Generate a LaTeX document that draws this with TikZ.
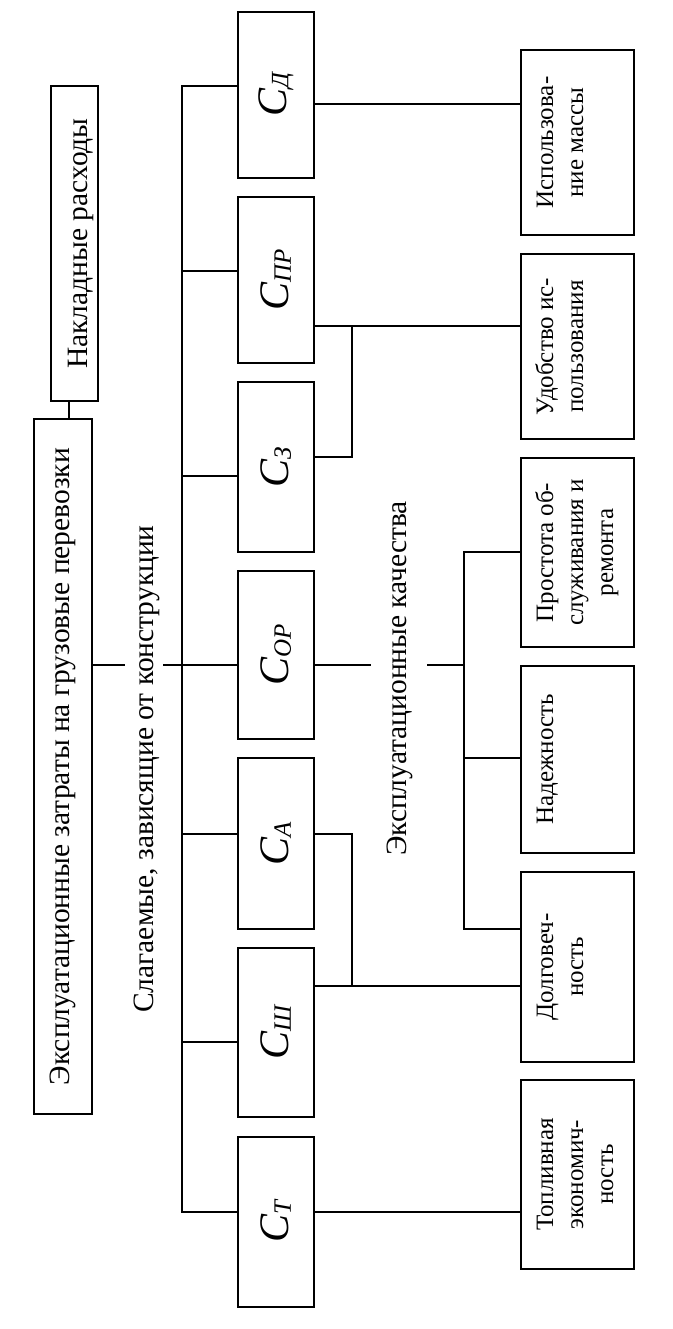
\documentclass[tikz,border=0pt]{standalone}
\usepackage{fontspec}
\setmainfont{Liberation Serif}
\usepackage{graphicx}
\tikzset{
  ln/.style={line width=1.2pt},
  box/.style={draw, line width=1.2pt, inner sep=0pt, rectangle},
  cbox/.style={box, minimum width=76pt},
  qbox/.style={box, minimum width=113pt},
  big/.style={font=\fontsize{29.5}{36}\selectfont},
}
\newcommand\rottxt[1]{\rotatebox{90}{\fontsize{29.5}{36}\selectfont #1}}
\newcommand\clab[1]{\rotatebox{90}{\fontsize{42}{42}\selectfont\itshape C\raisebox{-2pt}{\fontsize{25}{25}\selectfont #1}}}
\newcommand\qtxt[1]{\makebox[113pt][l]{\hspace{11pt}\rotatebox{90}{\fontsize{25}{30}\selectfont\begin{tabular}{@{}c@{}}#1\end{tabular}}}}
\begin{document}
\begin{tikzpicture}[x=1pt,y=-1pt]
\useasboundingbox (0,0) rectangle (672,1329);
% top-level boxes
\node[box, minimum width=47pt, minimum height=315pt] (nak) at (74.5,243.5) {\hspace{12pt}\rottxt{Накладные расходы}};
\node[box, minimum width=58pt, minimum height=695pt] (main) at (63,766.5) {\rottxt{Эксплуатационные затраты на грузовые перевозки}};
% free labels
\node[big, rotate=90, anchor=base, inner sep=0pt] (lab1) at (153,769) {Слагаемые, зависящие от конструкции};
\node[big, rotate=90, anchor=base, inner sep=0pt] (lab2) at (406,678.5) {Эксплуатационные качества};
% C boxes
\node[cbox, minimum height=166pt] (cd)  at (276,95)    {\clab{Д}};
\node[cbox, minimum height=166pt] (cpr) at (276,280)   {\clab{ПР}};
\node[cbox, minimum height=170pt] (cz)  at (276,467)   {\clab{З}};
\node[cbox, minimum height=168pt] (cor) at (276,655)   {\clab{ОР}};
\node[cbox, minimum height=171pt] (ca)  at (276,843.5) {\clab{А}};
\node[cbox, minimum height=169pt] (csh) at (276,1032.5){\clab{Ш}};
\node[cbox, minimum height=170pt] (ct)  at (276,1222)  {\clab{Т}};
% quality boxes
\node[qbox, minimum height=185pt] (q1) at (577.5,142.5) {\qtxt{Использова-\\ние массы}};
\node[qbox, minimum height=185pt] (q2) at (577.5,346.5) {\qtxt{Удобство ис-\\пользования}};
\node[qbox, minimum height=189pt] (q3) at (577.5,552.5) {\qtxt{Простота об-\\служивания и\\ремонта}};
\node[qbox, minimum height=187pt] (q4) at (577.5,759.5) {\qtxt{Надежность}};
\node[qbox, minimum height=190pt] (q5) at (577.5,967)   {\qtxt{Долговеч-\\ность}};
\node[qbox, minimum height=189pt] (q6) at (577.5,1174.5){\qtxt{Топливная\\экономич-\\ность}};
% connector nak - main
\coordinate (k) at (69,410);
\draw[ln] (nak.south -| k) -- (main.north -| k);
% left bus
\coordinate (b1) at (182,86);
\coordinate (b2) at (182,271);
\coordinate (b3) at (182,476);
\coordinate (b4) at (182,665);
\coordinate (b5) at (182,834);
\coordinate (b6) at (182,1042);
\coordinate (b7) at (182,1212);
\draw[ln] (cd.west |- b1) -- (b1) -- (b7) -- (ct.west |- b7);
\draw[ln] (b2) -- (cpr.west |- b2);
\draw[ln] (b3) -- (cz.west |- b3);
\draw[ln] (b5) -- (ca.west |- b5);
\draw[ln] (b6) -- (csh.west |- b6);
% centre line, broken by labels
\coordinate (g1) at (125,665);
\coordinate (g2) at (163,665);
\draw[ln] (main.east |- b4) -- (g1);
\draw[ln] (g2) -- (cor.west |- b4);
% right side
\coordinate (r1) at (400,104);
\draw[ln] (cd.east |- r1) -- (q1.west |- r1);
\coordinate (j1) at (352,326);
\coordinate (j2) at (352,457);
\draw[ln] (cpr.east |- j1) -- (q2.west |- j1);
\draw[ln] (j1) -- (j2) -- (cz.east |- j2);
\coordinate (g3) at (371,665);
\coordinate (g4) at (427,665);
\coordinate (s1) at (464,552);
\coordinate (s2) at (464,665);
\coordinate (s3) at (464,758);
\coordinate (s4) at (464,929);
\draw[ln] (cor.east |- s2) -- (g3);
\draw[ln] (g4) -- (s2);
\draw[ln] (q3.west |- s1) -- (s1) -- (s4) -- (q5.west |- s4);
\draw[ln] (s3) -- (q4.west |- s3);
\coordinate (j3) at (352,834);
\coordinate (j4) at (352,986);
\draw[ln] (ca.east |- j3) -- (j3) -- (j4);
\draw[ln] (csh.east |- j4) -- (q5.west |- j4);
\coordinate (r2) at (400,1212);
\draw[ln] (ct.east |- r2) -- (q6.west |- r2);
\end{tikzpicture}
\end{document}
